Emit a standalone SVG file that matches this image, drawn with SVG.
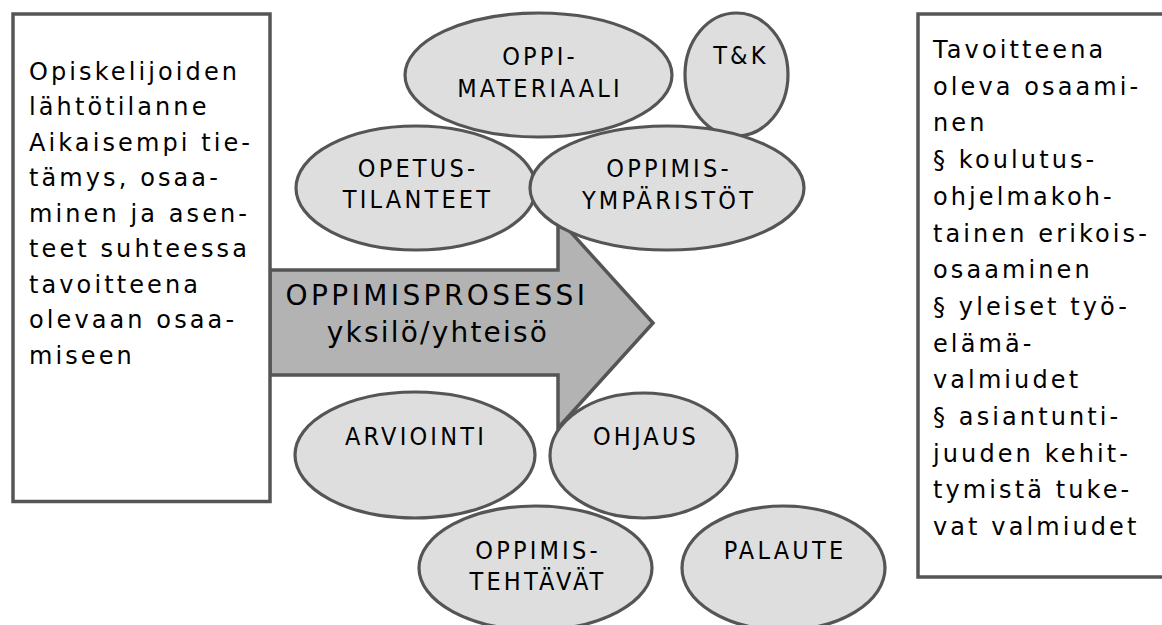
<svg xmlns="http://www.w3.org/2000/svg" width="1162" height="625" viewBox="0 0 1162 625">
<style>
.box{fill:#fff;stroke:#555;stroke-width:3.5}
.ell{fill:#dedede;stroke:#555;stroke-width:3.2}
.arrow{fill:#b3b3b3;stroke:#555;stroke-width:3.5;stroke-linejoin:miter}
.bt{font-family:"DejaVu Sans","Verdana",sans-serif;font-size:24px;letter-spacing:3.1px;fill:#000}
.at{font-family:"DejaVu Sans","Verdana",sans-serif;font-size:28px;fill:#000;text-anchor:middle}
.et{font-family:"Liberation Sans Narrow","DejaVu Sans Condensed",sans-serif;font-size:25px;letter-spacing:3.2px;fill:#000;text-anchor:middle}
</style>
<rect width="1162" height="625" fill="#fff"/>
<g id="connectors">
<path class="arrow" d="M270,270 H558 V218 L653,323 L558,428 V375 H270 Z"/>
</g>
<g id="left-box">
<rect class="box" x="13" y="14" width="257" height="487.5"/>
<text class="bt" x="29" y="79.5">
<tspan x="29" dy="0">Opiskelijoiden</tspan>
<tspan x="29" dy="35.5">lähtötilanne</tspan>
<tspan x="29" dy="35.5">Aikaisempi tie-</tspan>
<tspan x="29" dy="35.5">tämys, osaa-</tspan>
<tspan x="29" dy="35.5">minen ja asen-</tspan>
<tspan x="29" dy="35.5">teet suhteessa</tspan>
<tspan x="29" dy="35.5">tavoitteena</tspan>
<tspan x="29" dy="35.5">olevaan osaa-</tspan>
<tspan x="29" dy="35.5">miseen</tspan>
</text>
</g>
<g id="arrow-label">
<text class="at" x="437" y="305" letter-spacing="3.4">OPPIMISPROSESSI</text>
<text class="at" x="438" y="342" letter-spacing="2.2">yksilö/yhteisö</text>
</g>
<g id="oppimateriaali">
<ellipse class="ell" cx="538.5" cy="75" rx="133.5" ry="62"/>
<text class="et" x="540" y="65">OPPI-</text>
<text class="et" x="540" y="97">MATERIAALI</text>
</g>
<g id="tk">
<ellipse class="ell" cx="736.5" cy="74.5" rx="51.5" ry="61.5"/>
<text class="et" x="741" y="64">T&amp;K</text>
</g>
<g id="opetustilanteet">
<ellipse class="ell" cx="416" cy="188" rx="120" ry="62"/>
<text class="et" x="418" y="177">OPETUS-</text>
<text class="et" x="418" y="208">TILANTEET</text>
</g>
<g id="oppimisymparistot">
<ellipse class="ell" cx="667" cy="188" rx="137" ry="62"/>
<text class="et" x="669" y="177">OPPIMIS-</text>
<text class="et" x="669" y="209">YMPÄRISTÖT</text>
</g>
<g id="arviointi">
<ellipse class="ell" cx="415" cy="455" rx="120" ry="63"/>
<text class="et" x="416" y="445">ARVIOINTI</text>
</g>
<g id="ohjaus">
<ellipse class="ell" cx="643.5" cy="455.5" rx="93.5" ry="62.5"/>
<text class="et" x="646" y="445">OHJAUS</text>
</g>
<g id="oppimistehtavat">
<ellipse class="ell" cx="535.5" cy="568" rx="116.5" ry="62"/>
<text class="et" x="538" y="559">OPPIMIS-</text>
<text class="et" x="538" y="590">TEHTÄVÄT</text>
</g>
<g id="palaute">
<ellipse class="ell" cx="783.5" cy="568" rx="101.5" ry="62"/>
<text class="et" x="785" y="559">PALAUTE</text>
</g>
<g id="right-box">
<rect class="box" x="918" y="14" width="262" height="563"/>
<text class="bt" x="933" y="58">
<tspan x="933" dy="0">Tavoitteena</tspan>
<tspan x="933" dy="36.7">oleva osaami-</tspan>
<tspan x="933" dy="36.7">nen</tspan>
<tspan x="933" dy="36.7">§ koulutus-</tspan>
<tspan x="933" dy="36.7">ohjelmakoh-</tspan>
<tspan x="933" dy="36.7">tainen erikois-</tspan>
<tspan x="933" dy="36.7">osaaminen</tspan>
<tspan x="933" dy="36.7">§ yleiset työ-</tspan>
<tspan x="933" dy="36.7">elämä-</tspan>
<tspan x="933" dy="36.7">valmiudet</tspan>
<tspan x="933" dy="36.7">§ asiantunti-</tspan>
<tspan x="933" dy="36.7">juuden kehit-</tspan>
<tspan x="933" dy="36.7">tymistä tuke-</tspan>
<tspan x="933" dy="36.7">vat valmiudet</tspan>
</text>
</g>
</svg>
